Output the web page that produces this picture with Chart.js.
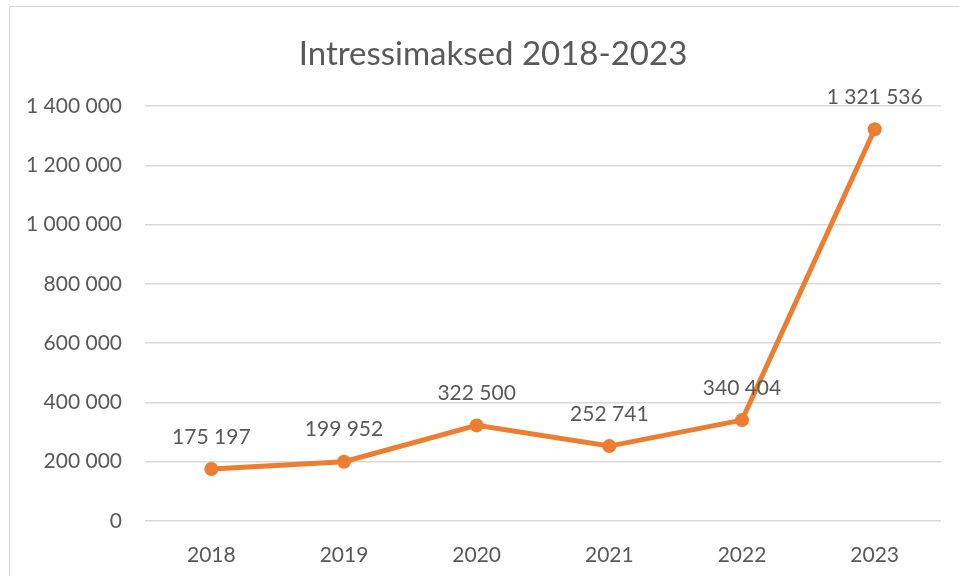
<!DOCTYPE html>
<html>
<head>
<meta charset="utf-8">
<script src="https://cdn.jsdelivr.net/npm/chart.js@4"></script>
<style>
  html, body { margin: 0; padding: 0; background: #fff; overflow: hidden; }
  #wrap { position: relative; width: 959px; height: 576px; }
  #frame { position: absolute; left: 9px; top: 6px; width: 2000px; height: 2000px; border: 1px solid #d9d9d9; pointer-events: none; }
  #title { position: absolute; left: 9px; top: 32px; width: 968px; height: 40px; line-height: 40px;
           text-align: center; font-family: Lato, sans-serif; font-size: 33px; color: #595959; }
</style>
</head>
<body>
<div id="wrap">
  <canvas id="chart" width="959" height="576"></canvas>
  <div id="frame"></div>
  <div id="title">Intressimaksed 2018-2023</div>
</div>
<script>
// Andmed
const years = ['2018', '2019', '2020', '2021', '2022', '2023'];
const interest = [175197, 199952, 322500, 252741, 340404, 1321536];
const yTicks = [0, 200000, 400000, 600000, 800000, 1000000, 1200000, 1400000];

const textColor = '#595959';
const lineColor = '#ED7D31';

// tuhandete eraldaja tühikuga
function fmt(v) {
    return String(v).replace(/\B(?=(\d{3})+(?!\d))/g, ' ');
}

// väärtuste sildid punktide kohal
const valueLabels = {
    id: 'valueLabels',
    afterDatasetsDraw(chart) {
        const ctx = chart.ctx;
        const meta = chart.getDatasetMeta(0);
        ctx.save();
        ctx.font = '21px Lato';
        ctx.fillStyle = textColor;
        ctx.textAlign = 'center';
        ctx.textBaseline = 'middle';
        meta.data.forEach((pt, i) => {
            ctx.fillText(fmt(chart.data.datasets[0].data[i]), pt.x, pt.y - 32);
        });
        ctx.restore();
    }
};

new Chart(document.getElementById('chart'), {
    type: 'line',
    data: {
        labels: years,
        datasets: [{
            data: interest,
            borderColor: lineColor,
            backgroundColor: lineColor,
            borderWidth: 5,
            pointRadius: 7,
            pointHoverRadius: 7,
            pointBorderWidth: 0,
            tension: 0
        }]
    },
    options: {
        responsive: false,
        animation: false,
        layout: { padding: { left: 0, right: 18, top: 106, bottom: 0 } },
        plugins: {
            legend: { display: false },
            tooltip: { enabled: false },
            title: { display: false }
        },
        scales: {
            x: {
                offset: true,
                grid: { display: false },
                border: { display: false },
                ticks: { color: textColor, font: { family: 'Lato', size: 21 }, padding: 14 },
                afterFit(scale) { scale.height = 55; }
            },
            y: {
                min: 0,
                max: 1400000,
                grid: { color: '#d9d9d9', lineWidth: 1.5, drawTicks: false },
                border: { display: false },
                afterBuildTicks(scale) { scale.ticks = yTicks.map(v => ({ value: v })); },
                ticks: {
                    color: textColor,
                    font: { family: 'Lato', size: 21 },
                    padding: 23,
                    callback: v => fmt(v)
                },
                afterFit(scale) { scale.width = 145; }
            }
        }
    },
    plugins: [valueLabels]
});
</script>
</body>
</html>
